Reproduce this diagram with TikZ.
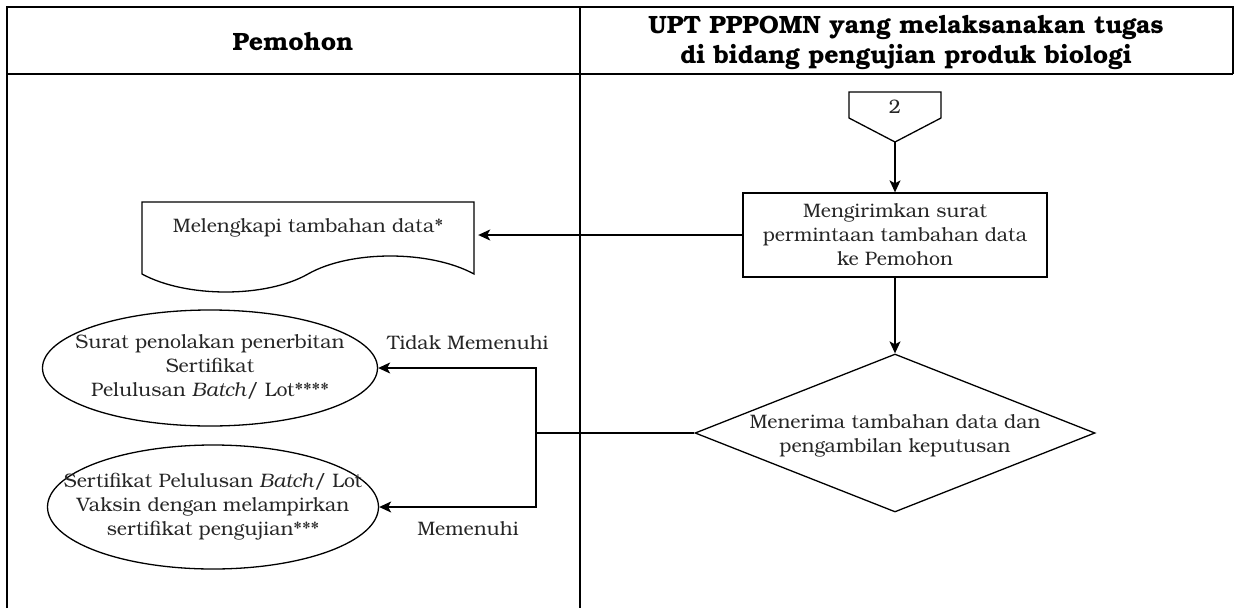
\documentclass[tikz,border=0pt]{standalone}
\usepackage{fontspec}
\setmainfont{TeX Gyre Bonum}
\usetikzlibrary{shapes.geometric,arrows.meta}
\begin{document}
\begin{tikzpicture}[x=1pt,y=-1pt,
  frame/.style={line width=1.6pt},
  conn/.style={line width=1.3pt},
  arr/.style={conn,-{Stealth[length=12pt,width=11pt,inset=3pt]}},
  txt/.style={font=\fontsize{19.5}{24}\selectfont, align=center, inner sep=0pt, text=black!85},
  hdr/.style={font=\fontsize{25}{30}\selectfont\bfseries, align=center, inner sep=0pt},
]
\useasboundingbox (0,0) rectangle (1234,608);
% frame
\draw[frame] (7,608) -- (7,7) -- (1233,7) -- (1233,74);
\draw[frame] (7,74) -- (1233,74);
\draw[frame] (580,7) -- (580,608);
% headers
\node[hdr] (h1) at (293,42) {Pemohon};
\node[hdr] (h2) at (906,43) {UPT PPPOMN yang melaksanakan tugas\\di bidang pengujian produk biologi};
% off-page connector
\draw[conn] (849,92) -- (941,92) -- (941,118) -- (895,142) -- (849,118) -- cycle;
\coordinate (optip) at (895,142);
\node[txt] (op) at (895,107) {2};
% process box
\node[draw, conn, txt, minimum width=304pt, minimum height=84pt] (box) at (895,235) {Mengirimkan surat\\permintaan tambahan data\\ke Pemohon};
% document
\node[minimum width=332pt, minimum height=72pt, inner sep=0pt] (doc) at (308,238) {};
\draw[conn] (142,202) -- (474,202) -- (474,274) .. controls (430,250) and (350,250) .. (308,274) .. controls (266,298) and (186,298) .. (142,274) -- cycle;
\node[txt] (doct) at (308,228) {Melengkapi tambahan data*};
% decision
\node[diamond, draw, conn, minimum width=400pt, minimum height=158pt, inner sep=0pt] (dec) at (895,433) {};
\node[txt] (dect) at (895,436) {Menerima tambahan data dan\\pengambilan keputusan};
% ellipses
\node[ellipse, draw, conn, minimum width=335pt, minimum height=116pt, inner sep=0pt] (e1) at (210,368) {};
\node[txt] (e1t) at (210,367) {Surat penolakan penerbitan\\Sertifikat\\Pelulusan \textit{Batch}/ Lot****};
\node[ellipse, draw, conn, minimum width=331pt, minimum height=124pt, inner sep=0pt] (e2) at (213,507) {};
\node[txt] (e2t) at (213,507) {Sertifikat Pelulusan \textit{Batch}/ Lot\\Vaksin dengan melampirkan\\sertifikat pengujian***};
% connectors
\draw[arr] (optip) -- (box.north);
\draw[arr] (box.west) -- ([xshift=4pt]box.west -| doc.east);
\draw[arr] (box.south) -- (dec.north);
\coordinate (jn) at (536,433);
\draw[conn] (dec.west) -- (jn);
\draw[arr] (jn) |- (e1.east);
\draw[arr] (jn) |- (e2.east);
% labels
\node[txt] (l1) at (468,343) {Tidak Memenuhi};
\node[txt] (l2) at (468,529) {Memenuhi};
\end{tikzpicture}
\end{document}
